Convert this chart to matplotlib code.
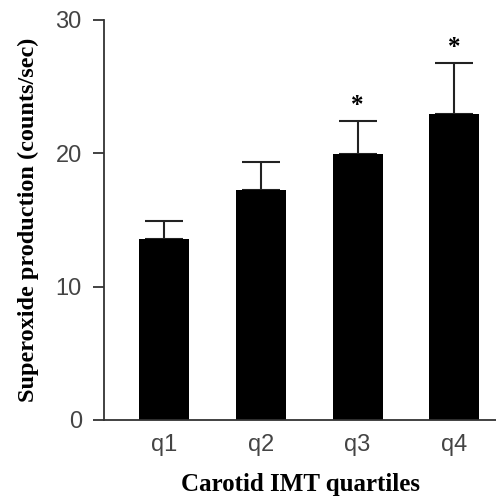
import matplotlib.pyplot as plt
import numpy as np

# Dane
quartiles = ['q1', 'q2', 'q3', 'q4']
means = [13.6, 17.25, 19.95, 22.95]
errors = [1.3, 2.1, 2.45, 3.85]
significant = [False, False, True, True]

fig = plt.figure(figsize=(4.96, 5.0), dpi=100)
ax = fig.add_axes([0.2097, 0.16, 0.7903, 0.80])

x = np.arange(len(quartiles))
ax.bar(x, means, width=0.515, color='black', zorder=2)
ax.errorbar(x, means, yerr=[np.zeros(len(errors)), errors], fmt='none',
            ecolor='#222222', elinewidth=1.5, capsize=14, capthick=1.5, zorder=1)

# Gwiazdki istotności
for xi, m, e, s in zip(x, means, errors, significant):
    if s:
        ax.text(xi, m + e + 0.3, '*', ha='center', va='bottom',
                fontsize=18, fontfamily='Liberation Serif', fontweight='bold')

ax.set_xlim(-0.62, 3.43)
ax.set_ylim(0, 30)
ax.set_yticks([0, 10, 20, 30])
ax.set_xticks(x)
ax.set_xticklabels(quartiles)

for side in ['top', 'right']:
    ax.spines[side].set_visible(False)
ax.spines['left'].set_linewidth(1.3)
ax.spines['bottom'].set_linewidth(1.3)
ax.spines['left'].set_color('#333333')
ax.spines['bottom'].set_color('#333333')

ax.tick_params(axis='y', length=8, width=1.3, color='#333333', pad=8,
               labelsize=17, labelcolor='#444444')
ax.tick_params(axis='x', length=0, pad=10, labelsize=17, labelcolor='#444444')
for lbl in ax.get_xticklabels() + ax.get_yticklabels():
    lbl.set_fontfamily('Liberation Sans')

ax.set_xlabel('Carotid IMT quartiles', fontsize=18, fontweight='bold',
              fontfamily='Liberation Serif', labelpad=12)
ax.set_ylabel('Superoxide production (counts/sec)', fontsize=17.5, fontweight='bold',
              fontfamily='Liberation Serif', labelpad=12)

fig.savefig('out.png', dpi=100)
